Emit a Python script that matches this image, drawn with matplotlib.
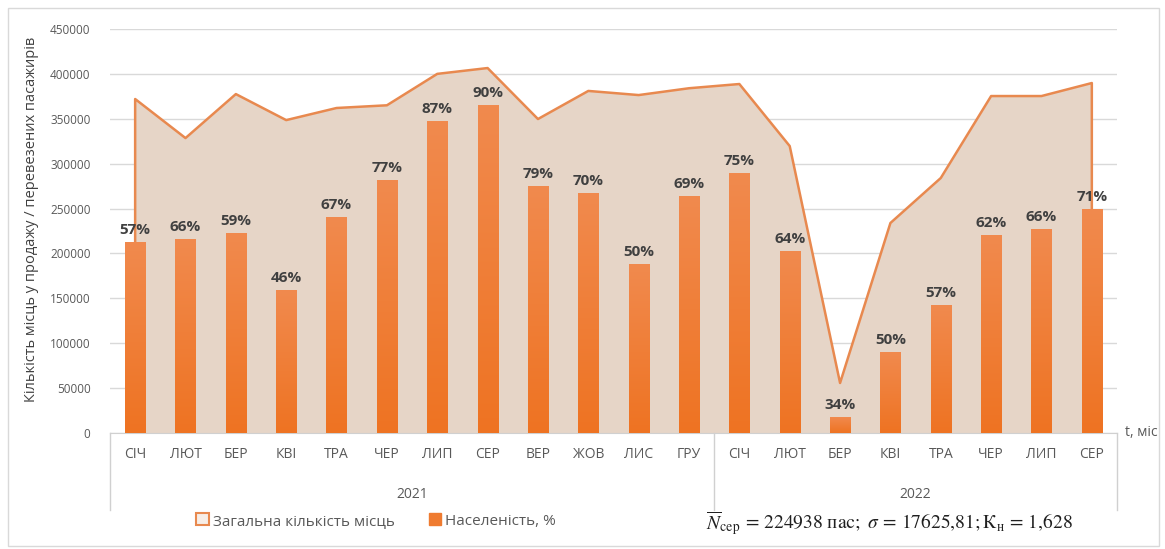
import numpy as np
import matplotlib.pyplot as plt
from matplotlib.patches import Patch, Rectangle
from matplotlib.lines import Line2D
from matplotlib.colors import LinearSegmentedColormap
import matplotlib.transforms as mtransforms

plt.rcParams['font.family'] = ['Open Sans', 'DejaVu Sans']
plt.rcParams['mathtext.fontset'] = 'stix'

months = ['СІЧ', 'ЛЮТ', 'БЕР', 'КВІ', 'ТРА', 'ЧЕР', 'ЛИП', 'СЕР', 'ВЕР', 'ЖОВ', 'ЛИС', 'ГРУ',
          'СІЧ', 'ЛЮТ', 'БЕР', 'КВІ', 'ТРА', 'ЧЕР', 'ЛИП', 'СЕР']
years = ['2021', '2022']
year_counts = [12, 8]
# total seats (area)
total_seats = [372000, 328500, 377500, 348500, 362000, 365000, 400000, 406500, 349700, 381000, 376400, 384000,
               388700, 319600, 55700, 233900, 284000, 375300, 375300, 389800]
# transported passengers (bars)
passengers = [212700, 216000, 222700, 159200, 240500, 281700, 347400, 365300, 275100, 267300, 188200, 263900,
              289500, 202700, 17800, 90200, 142500, 220500, 227200, 249400]
occupancy = [57, 66, 59, 46, 67, 77, 87, 90, 79, 70, 50, 69,
             75, 64, 34, 50, 57, 62, 66, 71]

line_col = '#E8894F'
fill_col = '#E6D5C7'
bar_col = '#EF7B30'
grey = '#595959'

fig = plt.figure(figsize=(11.65, 5.49), dpi=100)
ax = fig.add_axes([0.0944, 0.2113, 0.8644, 0.7359])

x = np.arange(len(months))
ax.fill_between(x, 0, total_seats, color=fill_col, zorder=1, lw=0)
ax.plot(np.r_[x[0], x, x[-1]], np.r_[0, total_seats, 0], color=line_col, lw=1.8, zorder=2)

bars = ax.bar(x, passengers, width=0.4, color=bar_col, zorder=3)
# vertical gradient on bars
grad = np.linspace(0, 1, 256).reshape(-1, 1)
cmap = LinearSegmentedColormap.from_list('g', ['#EE7322', '#F18A4E'])
for b in bars:
    bx, by, bw, bh = b.get_x(), b.get_y(), b.get_width(), b.get_height()
    im = ax.imshow(grad, extent=[bx, bx + bw, by, by + bh], origin='lower', cmap=cmap,
                   aspect='auto', zorder=3.5)
    im.set_clip_path(b)

for xi, h, p in zip(x, passengers, occupancy):
    ax.text(xi, h + 6000, f'{p}%', ha='center', va='bottom', fontsize=11,
            fontweight='bold', color='#404040', zorder=5)

ax.set_xlim(-0.5, len(months) - 0.5)
ax.set_ylim(0, 450000)
ax.set_yticks(np.arange(0, 450001, 50000))
ax.set_yticklabels([str(v) for v in range(0, 450001, 50000)], fontsize=8.5, color=grey)
ax.tick_params(axis='y', length=0, pad=14)
ax.set_xticks([])
ax.grid(axis='y', color='#D9D9D9', lw=1, zorder=0)
ax.set_axisbelow(True)
for s in ['top', 'right', 'left']:
    ax.spines[s].set_visible(False)
ax.spines['bottom'].set_color('#D0D0D0')

# multi-level category axis
trans = mtransforms.blended_transform_factory(ax.transData, ax.transAxes)
for xi, m in zip(x, months):
    ax.text(xi, -0.054, m, transform=trans, ha='center', va='center', fontsize=10, color=grey)
start = 0
bounds = [-0.5]
for yname, cnt in zip(years, year_counts):
    ax.text(start + (cnt - 1) / 2, -0.153, yname, transform=trans, ha='center', va='center',
            fontsize=10, color=grey)
    start += cnt
    bounds.append(start - 0.5)
for bx in bounds:
    ax.add_line(Line2D([bx, bx], [0, -0.19], transform=trans, color='#D0D0D0', lw=1, clip_on=False))

ax.text(1.008, 0, 't, міс', transform=ax.transAxes, ha='left', va='center', fontsize=10, color=grey)

fig.text(0.027, 0.600, 'Кількість місць у продажу / перевезених пасажирів', rotation=90,
         ha='center', va='center', fontsize=10.5, color='#404040')

handles = [Patch(facecolor='#F7EEE7', edgecolor=line_col, lw=1.5, label='Загальна кількість місць'),
           Patch(facecolor=bar_col, edgecolor=bar_col, label='Населеність, %')]
fig.legend(handles=handles, loc='center', bbox_to_anchor=(0.323, 0.051), ncol=2, frameon=False,
           fontsize=11, handlelength=0.8, handleheight=0.8, handletextpad=0.3, columnspacing=2.2,
           labelcolor=grey)

fig.text(0.921, 0.048,
         r'$\overline{N}_{\mathrm{сер}}\,=\,224938\ \mathrm{пас};\ \sigma\,=\,17625{,}81;\mathrm{К}_{\mathrm{н}}\,=\,1{,}628$',
         ha='right', va='center', fontsize=14, color='#202020')

fig.add_artist(Rectangle((0.007, 0.005), 0.988, 0.98, transform=fig.transFigure, fill=False,
                         edgecolor='#D9D9D9', lw=1))

fig.savefig('out.png', dpi=100)
